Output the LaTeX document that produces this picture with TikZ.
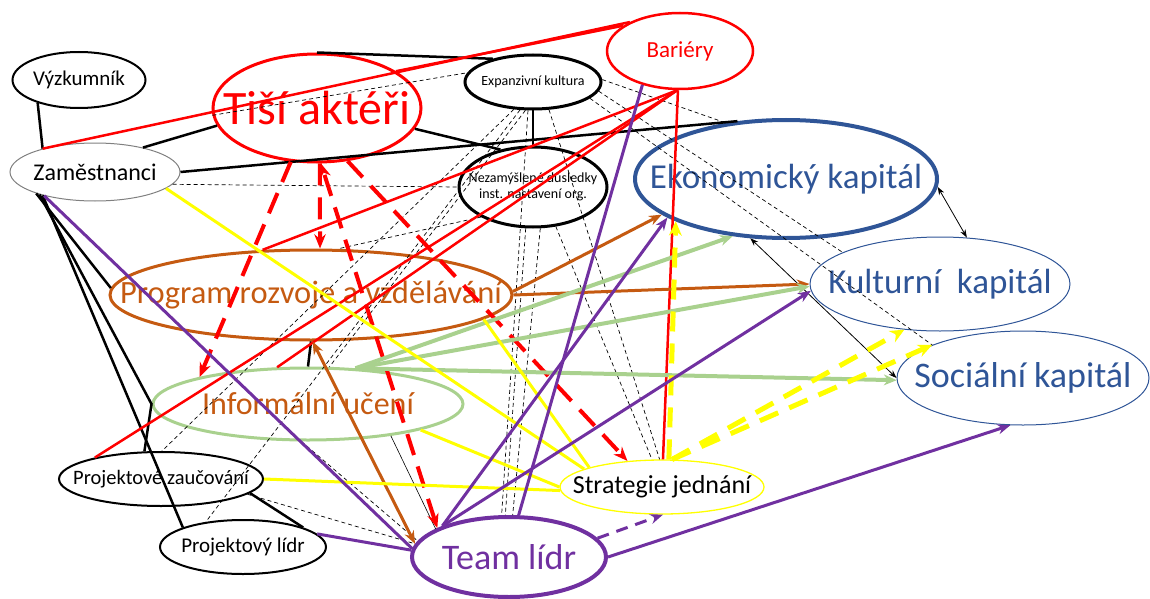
\documentclass[tikz,border=0pt]{standalone}
\usepackage{fontspec}
\setmainfont{Carlito}
\usetikzlibrary{arrows.meta,shapes.geometric}
\definecolor{kred}{HTML}{FF0000}
\definecolor{kblue}{HTML}{2F5597}
\definecolor{kbrown}{HTML}{C55A11}
\definecolor{kgreen}{HTML}{A9D18E}
\definecolor{kyellow}{HTML}{FFFF00}
\definecolor{kpurple}{HTML}{7030A0}
\newcommand{\fs}[1]{\fontsize{#1}{1.15\dimexpr#1pt\relax}\selectfont}
\tikzset{
  >={Stealth[length=4mm,width=3mm]},
  elnode/.style={ellipse,draw,inner sep=0pt,fill=none},
  eltext/.style={inner sep=0pt,align=center},
  blk/.style={line width=2.5pt,black},
  thinblk/.style={line width=0.6pt,black},
  dbl/.style={line width=0.8pt,black,{Stealth[length=2.8mm,width=2mm]}-{Stealth[length=2.8mm,width=2mm]}},
  dl/.style={line width=0.7pt,black,dash pattern=on 4pt off 3pt},
  rln/.style={line width=2.5pt,kred},
  rdash/.style={line width=4pt,kred,dash pattern=on 22pt off 12pt,-{Stealth[length=5mm,width=4mm]}},
  brarr/.style={line width=3pt,kbrown,-{Stealth[length=4.5mm,width=3.5mm]}},
  grarr/.style={line width=4pt,kgreen,-{Stealth[length=4.5mm,width=3.8mm]}},
  yln/.style={line width=3pt,kyellow},
  ydash/.style={line width=5pt,kyellow,dash pattern=on 20pt off 12pt,-{Stealth[length=5mm,width=4.5mm]}},
  pln/.style={line width=3pt,kpurple},
  parr/.style={line width=3pt,kpurple,-{Stealth[length=4.5mm,width=3.5mm]}},
  pdash/.style={line width=3pt,kpurple,dash pattern=on 12pt off 8pt,-{Stealth[length=4.5mm,width=3.5mm]}},
}
\begin{document}
\begin{tikzpicture}[x=1pt,y=-1pt]
  \useasboundingbox (0,0) rectangle (1150,599);
  % ellipses
  \node[elnode,line width=2pt,minimum width=133pt,minimum height=56pt,
    label={[eltext,font=\fs{21}]center:Výzkumník}] (vy) at (79,80) {};
  \node[elnode,draw=gray,line width=1pt,minimum width=170pt,minimum height=58pt,
    label={[eltext,font=\fs{24}]center:Zaměstnanci}] (za) at (95,172) {};
  \node[elnode,draw=kred,line width=3pt,minimum width=208pt,minimum height=108pt,
    label={[eltext,text=kred,font=\fs{48}]center:Tiší aktéři}] (ta) at (317,108) {};
  \node[elnode,line width=3pt,minimum width=136pt,minimum height=54pt,
    label={[eltext,font=\fs{14}]center:Expanzivní kultura}] (ex) at (533,82) {};
  \node[elnode,draw=kred,line width=2.5pt,minimum width=146pt,minimum height=76pt,
    label={[eltext,text=kred,font=\fs{23}]center:Bariéry}] (ba) at (680,51) {};
  \node[elnode,line width=3pt,minimum width=148pt,minimum height=80pt,
    label={[eltext,font=\fs{14}]center:Nezamýšlené důsledky\\inst. nastavení org.}] (nd) at (533,187) {};
  \node[elnode,draw=kblue,line width=4pt,minimum width=302pt,minimum height=118pt,
    label={[eltext,text=kblue,font=\fs{35}]center:Ekonomický kapitál}] (eko) at (786,179) {};
  \node[elnode,draw=kblue,line width=1pt,minimum width=260pt,minimum height=94pt,
    label={[eltext,text=kblue,font=\fs{35}]center:Kulturní\ \ kapitál}] (kul) at (940,284) {};
  \node[elnode,draw=kblue,line width=1pt,minimum width=252pt,minimum height=94pt,
    label={[eltext,text=kblue,font=\fs{36}]center:Sociální kapitál}] (soc) at (1023,378) {};
  \node[elnode,draw=kbrown,line width=3pt,minimum width=402pt,minimum height=90pt,
    label={[eltext,text=kbrown,font=\fs{32.5}]center:Program rozvoje a vzdělávání}] (pr) at (311,295) {};
  \node[elnode,draw=kgreen,line width=3pt,minimum width=310pt,minimum height=72pt,
    label={[eltext,text=kbrown,font=\fs{32}]center:Informální učení}] (iu) at (308,404) {};
  \node[elnode,draw=kyellow,line width=1.3pt,minimum width=204pt,minimum height=54pt,
    label={[eltext,font=\fs{26}]center:Strategie jednání}] (sj) at (662,487) {};
  \node[elnode,line width=2pt,minimum width=204pt,minimum height=54pt,
    label={[eltext,font=\fs{20.5}]center:Projektové zaučování}] (pz) at (161,479) {};
  \node[elnode,line width=2pt,minimum width=166pt,minimum height=54pt,
    label={[eltext,font=\fs{21}]center:Projektový lídr}] (pl) at (243,547) {};
  \node[elnode,draw=kpurple,line width=4pt,minimum width=194pt,minimum height=80pt,
    label={[eltext,text=kpurple,font=\fs{36}]center:Team lídr}] (tl) at (509,557) {};

  % dashed links
  \draw[dl] (ta.184) -- (ex.172);
  \draw[dl] (za.-9) -- (nd.west);
  \draw[dl] (ex.2) -- (eko.137);
  \draw[dl] (ex.-8) -- (kul.162);
  \draw[dl] (ex.-16) -- (soc.160);
  \draw[dl] (ex.-125) -- (pz.88);
  \draw[dl] (ex.-115) -- (pl.146);
  \draw[dl] (ex.-105) -- (iu.60);
  \draw[dl] (ex.-100) -- (tl.100);
  \draw[dl] (ex.-60) -- (sj.95);
  \draw[dl] (nd.-100) -- (tl.95);
  \draw[dl] (nd.-80) -- (tl.85);
  \draw[dl] (nd.-60) -- (sj.110);
  \draw[dl] (nd.-150) -- (pr.60);
  \draw[dl] (iu.-100) -- (tl.170);
  \draw[dl] (pz.-10) -- (tl.172);

  % black links
  \draw[blk] (vy.-151) -- (za.156);
  \draw[blk] (za.27) -- (ta.-170);
  \draw[blk] (za.east) -- (eko.130);
  \draw[blk] (ta.north) -- (ex.150);
  \draw[blk] (ta.-12) -- (nd.131);
  \draw[blk] (ex.south) -- (nd.north);
  \draw[blk] (za.-160) -- (pr.178);
  \draw[blk] (za.-158) -- (iu.west) -- (pz.121);
  \draw[blk] (za.-156) -- (pl.162);
  \draw[blk] (pz.-9) -- (pl.18);
  \draw[blk] (pr.south) -- (iu.north);
  \draw[thinblk] (iu.-21) -- (tl.159);
  \draw[dbl] (eko.-3) -- (kul.60);
  \draw[dbl] (eko.-121) -- (soc.west);

  % barriers
  \draw[rln] (za.156) -- (ba.150);
  \draw[rln] (ta.25) -- (ba.156);
  \draw[rln] (ba.-94) -- (pr.137);
  \draw[rln] (ba.-94) -- (iu.130);
  \draw[rln] (ba.-94) -- (pz.162);
  \draw[rln] (ba.-93) -- (sj.88);

  % silent actors
  \draw[rdash] (ta.-116) -- (iu.166);
  \draw[rdash] (ta.-87) -- (pr.79);
  \draw[rdash,{Stealth[length=5mm,width=4mm]}-{Stealth[length=5mm,width=4mm]}] (tl.158) -- (ta.-86);
  \draw[rdash] (ta.-60) -- (sj.143);

  % development programme
  \draw[brarr] (pr.1) -- (eko.196);
  \draw[brarr] (pr.0) -- (kul.west);
  \draw[brarr,{Stealth[length=4.5mm,width=3.5mm]}-{Stealth[length=4.5mm,width=3.5mm]}] (pr.-88) -- (tl.172);

  % informal learning
  \draw[grarr] (iu.37) -- (eko.-133);
  \draw[grarr] (iu.37) -- (kul.181);
  \draw[grarr] (iu.37) -- (soc.181);

  % strategies
  \draw[yln] (za.-13) -- (sj.167);
  \draw[yln] (pr.-8) -- (sj.165);
  \draw[yln] (iu.-13) -- (sj.180);
  \draw[yln] (pz.east) -- (sj.182);
  \draw[ydash] (sj.76) -- (eko.201);
  \draw[ydash] (sj.70) -- (kul.-128);
  \draw[ydash] (sj.70) -- (soc.160);

  % team leader
  \draw[pln] (za.-155) -- (tl.175);
  \draw[pln] (pl.10) -- (tl.176);
  \draw[parr] (tl.155) -- (eko.198);
  \draw[parr] (tl.155) -- (kul.183);
  \draw[pln] (tl.77) -- (ba.-138);
  \draw[parr] (tl.0) -- (soc.-105);
  \draw[pdash] (tl.12) -- (sj.-88);
\end{tikzpicture}
\end{document}
